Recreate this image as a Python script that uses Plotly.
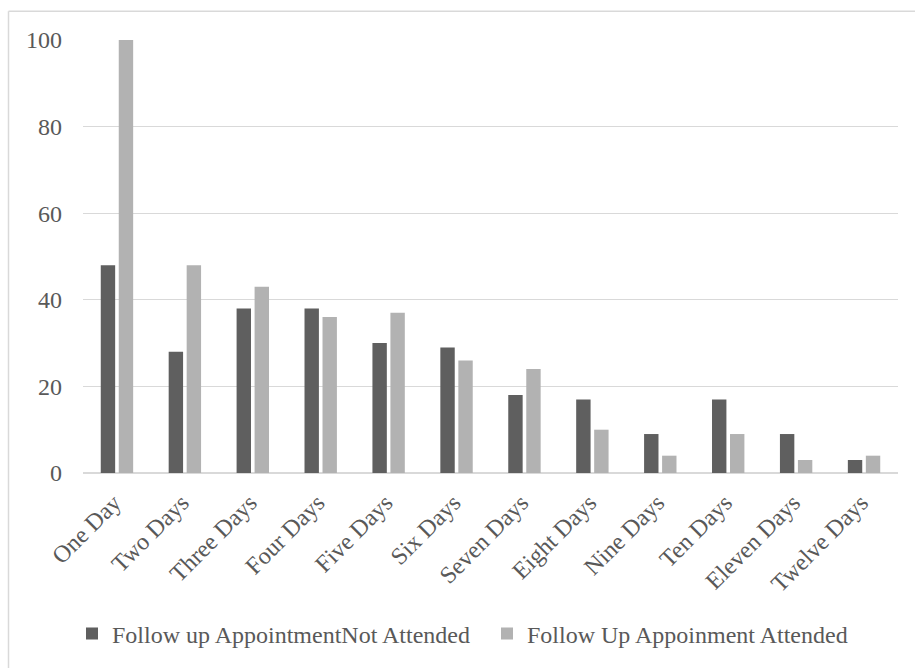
import plotly.graph_objects as go

categories = ["One Day", "Two Days", "Three Days", "Four Days", "Five Days", "Six Days",
              "Seven Days", "Eight Days", "Nine Days", "Ten Days", "Eleven Days", "Twelve Days"]
not_attended = [48, 28, 38, 38, 30, 29, 18, 17, 9, 17, 9, 3]
attended = [100, 48, 43, 36, 37, 26, 24, 10, 4, 9, 3, 4]
series_names = ["Follow up AppointmentNot Attended", "Follow Up Appoinment Attended"]
y_ticks = [0, 20, 40, 60, 80, 100]

FONT = "Liberation Serif"
FS = 24

fig = go.Figure()
fig.add_trace(go.Bar(x=categories, y=not_attended, name=series_names[0],
                     marker=dict(color="#5f5f5f", line=dict(width=0))))
fig.add_trace(go.Bar(x=categories, y=attended, name=series_names[1],
                     marker=dict(color="#b2b2b2", line=dict(width=0))))

L, R, T, B = 83, 17, 40, 192
W, H = 915, 668
pw, ph = W - L - R, H - T - B

def px_x(p):
    return (p - L) / pw

def px_y(p):
    return (H - B - p) / ph

fig.update_layout(
    width=W, height=H,
    margin=dict(l=L, r=R, t=T, b=B),
    paper_bgcolor="white", plot_bgcolor="white",
    barmode="group", bargap=0.47, bargroupgap=0.2,
    font=dict(family=FONT, size=FS, color="#595959"),
    showlegend=True,
    legend=dict(orientation="h", x=px_x(72), xanchor="left", y=px_y(638), yanchor="middle",
                font=dict(family=FONT, size=FS, color="#595959"),
                itemwidth=30, entrywidth=370, traceorder="normal"),
    xaxis=dict(tickangle=-45, showgrid=False, showline=False, ticks="",
               ticklabelstandoff=10, ticklabelshift=-3,
               tickfont=dict(family=FONT, size=FS, color="#595959")),
    yaxis=dict(range=[0, 100], tickvals=y_ticks, showgrid=True, gridcolor="#d9d9d9",
               gridwidth=1, zeroline=True, zerolinecolor="#d9d9d9", zerolinewidth=2,
               showline=False, ticks="", ticklabelstandoff=20,
               tickfont=dict(family=FONT, size=FS, color="#595959")),
    shapes=[
        dict(type="line", xref="paper", yref="paper", x0=px_x(8.5), x1=px_x(8.5),
             y0=px_y(11), y1=px_y(680), line=dict(color="#d9d9d9", width=1.5)),
        dict(type="line", xref="paper", yref="paper", x0=px_x(8.5), x1=px_x(930),
             y0=px_y(11), y1=px_y(11), line=dict(color="#d9d9d9", width=1.5)),
    ],
)

fig.write_html("out.html")
